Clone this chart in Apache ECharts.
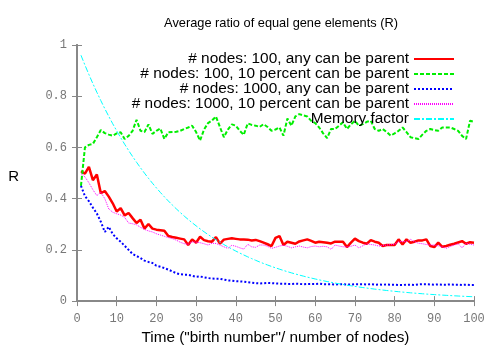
<!DOCTYPE html>
<html>
<head>
<meta charset="utf-8">
<script src="https://cdn.jsdelivr.net/npm/echarts@6/dist/echarts.min.js"></script>
<style>html,body{margin:0;padding:0;background:#fff}#c{width:500px;height:350px}</style>
</head>
<body>
<div id="c"></div>
<script>
const xs = [1,2,3,4,5,6,7,8,9,10,11,12,13,14,15,16,17,18,19,20,21,22,23,24,25,26,27,28,29,30,31,32,33,34,35,36,37,38,39,40,41,42,43,44,45,46,47,48,49,50,51,52,53,54,55,56,57,58,59,60,61,62,63,64,65,66,67,68,69,70,71,72,73,74,75,76,77,78,79,80,81,82,83,84,85,86,87,88,89,90,91,92,93,94,95,96,97,98,99,100];

const n100Any = [0.507,0.498,0.524,0.472,0.494,0.421,0.43,0.408,0.382,0.35,0.363,0.335,0.344,0.324,0.305,0.318,0.283,0.301,0.283,0.279,0.277,0.275,0.254,0.25,0.247,0.244,0.241,0.219,0.241,0.228,0.251,0.238,0.234,0.232,0.25,0.224,0.24,0.243,0.245,0.243,0.241,0.241,0.24,0.237,0.239,0.234,0.228,0.222,0.215,0.247,0.254,0.219,0.232,0.228,0.224,0.233,0.237,0.241,0.235,0.228,0.232,0.23,0.228,0.225,0.232,0.232,0.232,0.211,0.228,0.244,0.234,0.228,0.224,0.238,0.232,0.228,0.215,0.219,0.219,0.219,0.241,0.221,0.241,0.228,0.232,0.237,0.237,0.241,0.215,0.211,0.228,0.212,0.215,0.22,0.224,0.229,0.234,0.224,0.23,0.228];

const n100Ten = [0.45,0.60,0.61,0.614,0.64,0.668,0.656,0.65,0.646,0.655,0.659,0.633,0.645,0.665,0.708,0.665,0.66,0.69,0.653,0.665,0.674,0.633,0.659,0.66,0.661,0.665,0.672,0.678,0.685,0.66,0.627,0.67,0.695,0.705,0.721,0.68,0.64,0.67,0.69,0.685,0.665,0.649,0.694,0.688,0.685,0.68,0.691,0.68,0.665,0.67,0.678,0.646,0.713,0.685,0.721,0.73,0.725,0.721,0.704,0.695,0.678,0.655,0.636,0.672,0.672,0.685,0.698,0.672,0.69,0.704,0.685,0.691,0.70,0.704,0.672,0.665,0.672,0.66,0.646,0.655,0.665,0.678,0.66,0.64,0.636,0.633,0.65,0.665,0.672,0.668,0.665,0.678,0.678,0.678,0.672,0.665,0.645,0.633,0.704,0.70];

const n1000Any = [0.45,0.41,0.39,0.365,0.342,0.31,0.27,0.29,0.262,0.245,0.232,0.216,0.2,0.184,0.176,0.168,0.158,0.153,0.149,0.138,0.134,0.129,0.123,0.116,0.109,0.105,0.103,0.103,0.099,0.095,0.096,0.093,0.09,0.088,0.087,0.087,0.084,0.081,0.08,0.078,0.077,0.076,0.074,0.072,0.07,0.069,0.07,0.071,0.07,0.069,0.068,0.068,0.067,0.067,0.068,0.067,0.066,0.067,0.067,0.067,0.068,0.066,0.066,0.066,0.065,0.066,0.066,0.065,0.065,0.066,0.066,0.066,0.065,0.066,0.064,0.065,0.064,0.065,0.064,0.064,0.063,0.063,0.064,0.064,0.063,0.065,0.066,0.066,0.065,0.064,0.065,0.064,0.064,0.065,0.064,0.064,0.063,0.064,0.063,0.063];

const n1000Ten = [0.498,0.485,0.462,0.435,0.412,0.425,0.40,0.36,0.347,0.341,0.336,0.327,0.305,0.302,0.298,0.288,0.28,0.274,0.27,0.263,0.258,0.253,0.248,0.244,0.238,0.23,0.224,0.222,0.231,0.23,0.228,0.224,0.219,0.226,0.225,0.219,0.212,0.206,0.218,0.214,0.208,0.203,0.222,0.212,0.21,0.219,0.219,0.214,0.206,0.21,0.215,0.218,0.214,0.208,0.212,0.215,0.211,0.208,0.213,0.215,0.212,0.214,0.212,0.202,0.219,0.215,0.212,0.212,0.214,0.219,0.208,0.216,0.224,0.221,0.219,0.215,0.217,0.219,0.22,0.222,0.232,0.233,0.232,0.241,0.232,0.226,0.224,0.221,0.219,0.219,0.216,0.212,0.206,0.213,0.219,0.224,0.208,0.226,0.222,0.219];

const memory = [0.96,0.9216,0.8847,0.8493,0.8154,0.7828,0.7514,0.7214,0.6925,0.6648,0.6382,0.6127,0.5882,0.5647,0.5421,0.5204,0.4996,0.4796,0.4604,0.4420,0.4243,0.4073,0.3911,0.3754,0.3604,0.3460,0.3321,0.3189,0.3061,0.2939,0.2821,0.2708,0.2600,0.2496,0.2396,0.2300,0.2208,0.2120,0.2035,0.1954,0.1876,0.1801,0.1729,0.1659,0.1593,0.1529,0.1468,0.1409,0.1353,0.1299,0.1247,0.1197,0.1149,0.1103,0.1059,0.1017,0.0976,0.0937,0.0900,0.0864,0.0829,0.0796,0.0764,0.0734,0.0704,0.0676,0.0649,0.0623,0.0598,0.0574,0.0551,0.0529,0.0508,0.0488,0.0468,0.0450,0.0432,0.0414,0.0398,0.0382,0.0367,0.0352,0.0338,0.0324,0.0311,0.0299,0.0287,0.0275,0.0264,0.0254,0.0244,0.0234,0.0225,0.0216,0.0207,0.0199,0.0191,0.0183,0.0176,0.0169];

const seriesNames = ['# nodes: 100, any can be parent','# nodes: 100, 10 percent can be parent','# nodes: 1000, any can be parent','# nodes: 1000, 10 percent can be parent','Memory factor'];
const titleText = 'Average ratio of equal gene elements (R)';
const xName = 'Time ("birth number"/ number of nodes)';
const yName = 'R';

const pair = ys => xs.map((x, i) => [x, ys[i]]);
const values = [n100Any, n100Ten, n1000Any, n1000Ten, memory];
const styles = [
  {color:'#ff0000', width:2.5, type:'solid'},
  {color:'#00ee00', width:2, type:[4,2]},
  {color:'#0000ff', width:2, type:[2,2]},
  {color:'#ff00ff', width:1, type:[1,1]},
  {color:'#00ffff', width:1, type:[6,2,2,2]}
];
const legendTops = [50, 65, 80, 95, 110];

const chart = echarts.init(document.getElementById('c'), null, {renderer:'canvas'});
const axisGray = '#888888';
const tickFont = {color:'#777777', fontFamily:'Liberation Mono', fontSize:12};
chart.setOption({
  animation:false,
  backgroundColor:'#ffffff',
  title:{text:titleText, left:276, top:12, textAlign:'center',
    textStyle:{fontFamily:'Liberation Sans', fontSize:12.8, fontWeight:'normal', color:'#000'}},
  grid:{left:77, right:26, top:45, bottom:46},
  legend: seriesNames.map((nm, i) => ({
    data:[nm], right:45, top:legendTops[i] + 0.5, orient:'vertical', align:'right',
    padding:0, itemWidth:40, itemHeight:10, itemGap:0, selectedMode:false,
    itemStyle:{opacity:0},
    textStyle:{fontFamily:'Liberation Sans', fontSize:15.4, color:'#000', lineHeight:17, padding:[0,0,0,0]}
  })),
  xAxis:[
    {type:'value', min:0, max:100, interval:10, position:'bottom',
     name:xName, nameLocation:'middle', nameGap:17,
     nameTextStyle:{fontFamily:'Liberation Sans', fontSize:15.3, color:'#000'},
     axisLine:{show:true, lineStyle:{color:axisGray, width:2}},
     axisTick:{show:true, inside:true, length:5, lineStyle:{color:axisGray, width:1}},
     axisLabel:Object.assign({margin:12}, tickFont),
     splitLine:{show:false}},
    {type:'value', min:0, max:100, interval:10, position:'top',
     axisLine:{show:true, lineStyle:{color:axisGray, width:2}},
     axisTick:{show:true, inside:true, length:5, lineStyle:{color:axisGray, width:1}},
     axisLabel:{show:false}, splitLine:{show:false}}
  ],
  yAxis:[
    {type:'value', min:0, max:1, interval:0.2, position:'left',
     name:yName, nameLocation:'middle', nameGap:58, nameRotate:0,
     nameTextStyle:{fontFamily:'Liberation Sans', fontSize:15, color:'#000', verticalAlign:'top', lineHeight:8},
     axisLine:{show:true, lineStyle:{color:axisGray, width:2}},
     axisTick:{show:true, inside:true, length:5, lineStyle:{color:axisGray, width:1}},
     axisLabel:Object.assign({margin:10, formatter: v => String(+v.toFixed(1))}, tickFont),
     splitLine:{show:false}},
    {type:'value', min:0, max:1, interval:0.2, position:'right',
     axisLine:{show:true, lineStyle:{color:axisGray, width:2}},
     axisTick:{show:true, inside:true, length:5, lineStyle:{color:axisGray, width:1}},
     axisLabel:{show:false}, splitLine:{show:false}}
  ],
  series: seriesNames.map((nm, i) => ({
    name:nm, type:'line', data:pair(values[i]), symbol:'none', showSymbol:false,
    xAxisIndex:0, yAxisIndex:0, silent:true,
    lineStyle:{color:styles[i].color, width:styles[i].width, type:styles[i].type},
    itemStyle:{color:styles[i].color},
    emphasis:{disabled:true}
  }))
});
</script>
</body>
</html>
